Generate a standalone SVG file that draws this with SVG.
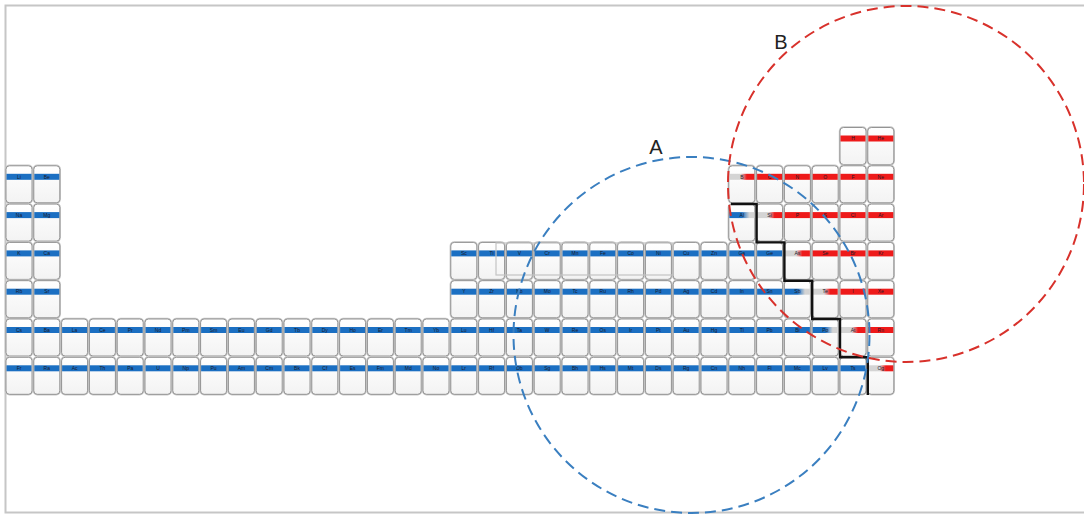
<svg xmlns="http://www.w3.org/2000/svg" xmlns:xlink="http://www.w3.org/1999/xlink" width="1084" height="514" viewBox="0 0 1084 514">
  <style>
    .band { stroke: none; }
    .m { fill: #1b6fc2; }
    .n { fill: #ee1a1a; }
    .mg { fill: url(#grayRed); }
    .mb { fill: url(#blueGray); }
    .sym { font-family: "Liberation Sans", Arial, sans-serif; font-size: 5px; fill: #1a1a2a; text-anchor: middle; }
    .lbl { font-family: "Liberation Sans", Arial, sans-serif; font-size: 20px; fill: #222; text-anchor: middle; }
    .ring { fill: none; stroke-width: 2; stroke-dasharray: 11 6; }
  </style>
  <defs>
    <linearGradient id="face" x1="0" y1="0" x2="0" y2="1">
      <stop offset="0" stop-color="#ffffff"/>
      <stop offset="1" stop-color="#f3f3f3"/>
    </linearGradient>
    <linearGradient id="grayRed" x1="0" y1="0" x2="1" y2="0">
      <stop offset="0" stop-color="#d4d4d4"/>
      <stop offset="0.45" stop-color="#d4d4d4"/>
      <stop offset="0.7" stop-color="#ee1a1a"/>
      <stop offset="1" stop-color="#ee1a1a"/>
    </linearGradient>
    <linearGradient id="blueGray" x1="0" y1="0" x2="1" y2="0">
      <stop offset="0" stop-color="#1b6fc2"/>
      <stop offset="0.5" stop-color="#1b6fc2"/>
      <stop offset="0.8" stop-color="#d4d4d4"/>
      <stop offset="1" stop-color="#d4d4d4"/>
    </linearGradient>
    <!-- one tile of the table: soft outer edge plus the card face -->
    <g id="cell">
      <rect x="0" y="0" width="26" height="37" rx="3.5" fill="none" stroke="#c8c8c8" stroke-width="2.4"/>
      <rect x="0" y="0" width="26" height="37" rx="3.5" fill="url(#face)" stroke="#8a8a8a" stroke-width="0.9"/>
    </g>
  </defs>

  <rect width="1084" height="514" fill="#ffffff"/>
  <!-- frame -->
  <rect x="5.5" y="5.5" width="1090" height="507" fill="none" stroke="#c6c6c6" stroke-width="2"/>

  <!-- period 1 -->
  <g id="el-H" transform="translate(840,127.5)"><use href="#cell"/><rect class="band n" x="0.5" y="8" width="25" height="6"/><text class="sym" x="13" y="12.8">H</text></g>
  <g id="el-He" transform="translate(867.8,127.5)"><use href="#cell"/><rect class="band n" x="0.5" y="8" width="25" height="6"/><text class="sym" x="13" y="12.8">He</text></g>

  <!-- period 2 -->
  <g id="el-Li" transform="translate(6,165.8)"><use href="#cell"/><rect class="band m" x="0.5" y="8" width="25" height="6"/><text class="sym" x="13" y="12.8">Li</text></g>
  <g id="el-Be" transform="translate(33.8,165.8)"><use href="#cell"/><rect class="band m" x="0.5" y="8" width="25" height="6"/><text class="sym" x="13" y="12.8">Be</text></g>
  <g id="el-B" transform="translate(728.8,165.8)"><use href="#cell"/><rect class="band mg" x="0.5" y="8" width="25" height="6"/><text class="sym" x="13" y="12.8">B</text></g>
  <g id="el-C" transform="translate(756.6,165.8)"><use href="#cell"/><rect class="band n" x="0.5" y="8" width="25" height="6"/><text class="sym" x="13" y="12.8">C</text></g>
  <g id="el-N" transform="translate(784.4,165.8)"><use href="#cell"/><rect class="band n" x="0.5" y="8" width="25" height="6"/><text class="sym" x="13" y="12.8">N</text></g>
  <g id="el-O" transform="translate(812.2,165.8)"><use href="#cell"/><rect class="band n" x="0.5" y="8" width="25" height="6"/><text class="sym" x="13" y="12.8">O</text></g>
  <g id="el-F" transform="translate(840,165.8)"><use href="#cell"/><rect class="band n" x="0.5" y="8" width="25" height="6"/><text class="sym" x="13" y="12.8">F</text></g>
  <g id="el-Ne" transform="translate(867.8,165.8)"><use href="#cell"/><rect class="band n" x="0.5" y="8" width="25" height="6"/><text class="sym" x="13" y="12.8">Ne</text></g>

  <!-- period 3 -->
  <g id="el-Na" transform="translate(6,204.1)"><use href="#cell"/><rect class="band m" x="0.5" y="8" width="25" height="6"/><text class="sym" x="13" y="12.8">Na</text></g>
  <g id="el-Mg" transform="translate(33.8,204.1)"><use href="#cell"/><rect class="band m" x="0.5" y="8" width="25" height="6"/><text class="sym" x="13" y="12.8">Mg</text></g>
  <g id="el-Al" transform="translate(728.8,204.1)"><use href="#cell"/><rect class="band mb" x="0.5" y="8" width="25" height="6"/><text class="sym" x="13" y="12.8">Al</text></g>
  <g id="el-Si" transform="translate(756.6,204.1)"><use href="#cell"/><rect class="band mg" x="0.5" y="8" width="25" height="6"/><text class="sym" x="13" y="12.8">Si</text></g>
  <g id="el-P" transform="translate(784.4,204.1)"><use href="#cell"/><rect class="band n" x="0.5" y="8" width="25" height="6"/><text class="sym" x="13" y="12.8">P</text></g>
  <g id="el-S" transform="translate(812.2,204.1)"><use href="#cell"/><rect class="band n" x="0.5" y="8" width="25" height="6"/><text class="sym" x="13" y="12.8">S</text></g>
  <g id="el-Cl" transform="translate(840,204.1)"><use href="#cell"/><rect class="band n" x="0.5" y="8" width="25" height="6"/><text class="sym" x="13" y="12.8">Cl</text></g>
  <g id="el-Ar" transform="translate(867.8,204.1)"><use href="#cell"/><rect class="band n" x="0.5" y="8" width="25" height="6"/><text class="sym" x="13" y="12.8">Ar</text></g>

  <!-- period 4 -->
  <g id="el-K" transform="translate(6,242.4)"><use href="#cell"/><rect class="band m" x="0.5" y="8" width="25" height="6"/><text class="sym" x="13" y="12.8">K</text></g>
  <g id="el-Ca" transform="translate(33.8,242.4)"><use href="#cell"/><rect class="band m" x="0.5" y="8" width="25" height="6"/><text class="sym" x="13" y="12.8">Ca</text></g>
  <g id="el-Sc" transform="translate(450.8,242.4)"><use href="#cell"/><rect class="band m" x="0.5" y="8" width="25" height="6"/><text class="sym" x="13" y="12.8">Sc</text></g>
  <g id="el-Ti" transform="translate(478.6,242.4)"><use href="#cell"/><rect class="band m" x="0.5" y="8" width="25" height="6"/><text class="sym" x="13" y="12.8">Ti</text></g>
  <g id="el-V" transform="translate(506.4,242.4)"><use href="#cell"/><rect class="band m" x="0.5" y="8" width="25" height="6"/><text class="sym" x="13" y="12.8">V</text></g>
  <g id="el-Cr" transform="translate(534.2,242.4)"><use href="#cell"/><rect class="band m" x="0.5" y="8" width="25" height="6"/><text class="sym" x="13" y="12.8">Cr</text></g>
  <g id="el-Mn" transform="translate(562,242.4)"><use href="#cell"/><rect class="band m" x="0.5" y="8" width="25" height="6"/><text class="sym" x="13" y="12.8">Mn</text></g>
  <g id="el-Fe" transform="translate(589.8,242.4)"><use href="#cell"/><rect class="band m" x="0.5" y="8" width="25" height="6"/><text class="sym" x="13" y="12.8">Fe</text></g>
  <g id="el-Co" transform="translate(617.6,242.4)"><use href="#cell"/><rect class="band m" x="0.5" y="8" width="25" height="6"/><text class="sym" x="13" y="12.8">Co</text></g>
  <g id="el-Ni" transform="translate(645.4,242.4)"><use href="#cell"/><rect class="band m" x="0.5" y="8" width="25" height="6"/><text class="sym" x="13" y="12.8">Ni</text></g>
  <g id="el-Cu" transform="translate(673.2,242.4)"><use href="#cell"/><rect class="band m" x="0.5" y="8" width="25" height="6"/><text class="sym" x="13" y="12.8">Cu</text></g>
  <g id="el-Zn" transform="translate(701,242.4)"><use href="#cell"/><rect class="band m" x="0.5" y="8" width="25" height="6"/><text class="sym" x="13" y="12.8">Zn</text></g>
  <g id="el-Ga" transform="translate(728.8,242.4)"><use href="#cell"/><rect class="band m" x="0.5" y="8" width="25" height="6"/><text class="sym" x="13" y="12.8">Ga</text></g>
  <g id="el-Ge" transform="translate(756.6,242.4)"><use href="#cell"/><rect class="band m" x="0.5" y="8" width="25" height="6"/><text class="sym" x="13" y="12.8">Ge</text></g>
  <g id="el-As" transform="translate(784.4,242.4)"><use href="#cell"/><rect class="band mg" x="0.5" y="8" width="25" height="6"/><text class="sym" x="13" y="12.8">As</text></g>
  <g id="el-Se" transform="translate(812.2,242.4)"><use href="#cell"/><rect class="band n" x="0.5" y="8" width="25" height="6"/><text class="sym" x="13" y="12.8">Se</text></g>
  <g id="el-Br" transform="translate(840,242.4)"><use href="#cell"/><rect class="band n" x="0.5" y="8" width="25" height="6"/><text class="sym" x="13" y="12.8">Br</text></g>
  <g id="el-Kr" transform="translate(867.8,242.4)"><use href="#cell"/><rect class="band n" x="0.5" y="8" width="25" height="6"/><text class="sym" x="13" y="12.8">Kr</text></g>

  <!-- period 5 -->
  <g id="el-Rb" transform="translate(6,280.7)"><use href="#cell"/><rect class="band m" x="0.5" y="8" width="25" height="6"/><text class="sym" x="13" y="12.8">Rb</text></g>
  <g id="el-Sr" transform="translate(33.8,280.7)"><use href="#cell"/><rect class="band m" x="0.5" y="8" width="25" height="6"/><text class="sym" x="13" y="12.8">Sr</text></g>
  <g id="el-Y" transform="translate(450.8,280.7)"><use href="#cell"/><rect class="band m" x="0.5" y="8" width="25" height="6"/><text class="sym" x="13" y="12.8">Y</text></g>
  <g id="el-Zr" transform="translate(478.6,280.7)"><use href="#cell"/><rect class="band m" x="0.5" y="8" width="25" height="6"/><text class="sym" x="13" y="12.8">Zr</text></g>
  <g id="el-Nb" transform="translate(506.4,280.7)"><use href="#cell"/><rect class="band m" x="0.5" y="8" width="25" height="6"/><text class="sym" x="13" y="12.8">Nb</text></g>
  <g id="el-Mo" transform="translate(534.2,280.7)"><use href="#cell"/><rect class="band m" x="0.5" y="8" width="25" height="6"/><text class="sym" x="13" y="12.8">Mo</text></g>
  <g id="el-Tc" transform="translate(562,280.7)"><use href="#cell"/><rect class="band m" x="0.5" y="8" width="25" height="6"/><text class="sym" x="13" y="12.8">Tc</text></g>
  <g id="el-Ru" transform="translate(589.8,280.7)"><use href="#cell"/><rect class="band m" x="0.5" y="8" width="25" height="6"/><text class="sym" x="13" y="12.8">Ru</text></g>
  <g id="el-Rh" transform="translate(617.6,280.7)"><use href="#cell"/><rect class="band m" x="0.5" y="8" width="25" height="6"/><text class="sym" x="13" y="12.8">Rh</text></g>
  <g id="el-Pd" transform="translate(645.4,280.7)"><use href="#cell"/><rect class="band m" x="0.5" y="8" width="25" height="6"/><text class="sym" x="13" y="12.8">Pd</text></g>
  <g id="el-Ag" transform="translate(673.2,280.7)"><use href="#cell"/><rect class="band m" x="0.5" y="8" width="25" height="6"/><text class="sym" x="13" y="12.8">Ag</text></g>
  <g id="el-Cd" transform="translate(701,280.7)"><use href="#cell"/><rect class="band m" x="0.5" y="8" width="25" height="6"/><text class="sym" x="13" y="12.8">Cd</text></g>
  <g id="el-In" transform="translate(728.8,280.7)"><use href="#cell"/><rect class="band m" x="0.5" y="8" width="25" height="6"/><text class="sym" x="13" y="12.8">In</text></g>
  <g id="el-Sn" transform="translate(756.6,280.7)"><use href="#cell"/><rect class="band m" x="0.5" y="8" width="25" height="6"/><text class="sym" x="13" y="12.8">Sn</text></g>
  <g id="el-Sb" transform="translate(784.4,280.7)"><use href="#cell"/><rect class="band mb" x="0.5" y="8" width="25" height="6"/><text class="sym" x="13" y="12.8">Sb</text></g>
  <g id="el-Te" transform="translate(812.2,280.7)"><use href="#cell"/><rect class="band mg" x="0.5" y="8" width="25" height="6"/><text class="sym" x="13" y="12.8">Te</text></g>
  <g id="el-I" transform="translate(840,280.7)"><use href="#cell"/><rect class="band n" x="0.5" y="8" width="25" height="6"/><text class="sym" x="13" y="12.8">I</text></g>
  <g id="el-Xe" transform="translate(867.8,280.7)"><use href="#cell"/><rect class="band n" x="0.5" y="8" width="25" height="6"/><text class="sym" x="13" y="12.8">Xe</text></g>

  <!-- period 6 -->
  <g id="el-Cs" transform="translate(6,319)"><use href="#cell"/><rect class="band m" x="0.5" y="8" width="25" height="6"/><text class="sym" x="13" y="12.8">Cs</text></g>
  <g id="el-Ba" transform="translate(33.8,319)"><use href="#cell"/><rect class="band m" x="0.5" y="8" width="25" height="6"/><text class="sym" x="13" y="12.8">Ba</text></g>
  <g id="el-La" transform="translate(61.6,319)"><use href="#cell"/><rect class="band m" x="0.5" y="8" width="25" height="6"/><text class="sym" x="13" y="12.8">La</text></g>
  <g id="el-Ce" transform="translate(89.4,319)"><use href="#cell"/><rect class="band m" x="0.5" y="8" width="25" height="6"/><text class="sym" x="13" y="12.8">Ce</text></g>
  <g id="el-Pr" transform="translate(117.2,319)"><use href="#cell"/><rect class="band m" x="0.5" y="8" width="25" height="6"/><text class="sym" x="13" y="12.8">Pr</text></g>
  <g id="el-Nd" transform="translate(145,319)"><use href="#cell"/><rect class="band m" x="0.5" y="8" width="25" height="6"/><text class="sym" x="13" y="12.8">Nd</text></g>
  <g id="el-Pm" transform="translate(172.8,319)"><use href="#cell"/><rect class="band m" x="0.5" y="8" width="25" height="6"/><text class="sym" x="13" y="12.8">Pm</text></g>
  <g id="el-Sm" transform="translate(200.6,319)"><use href="#cell"/><rect class="band m" x="0.5" y="8" width="25" height="6"/><text class="sym" x="13" y="12.8">Sm</text></g>
  <g id="el-Eu" transform="translate(228.4,319)"><use href="#cell"/><rect class="band m" x="0.5" y="8" width="25" height="6"/><text class="sym" x="13" y="12.8">Eu</text></g>
  <g id="el-Gd" transform="translate(256.2,319)"><use href="#cell"/><rect class="band m" x="0.5" y="8" width="25" height="6"/><text class="sym" x="13" y="12.8">Gd</text></g>
  <g id="el-Tb" transform="translate(284,319)"><use href="#cell"/><rect class="band m" x="0.5" y="8" width="25" height="6"/><text class="sym" x="13" y="12.8">Tb</text></g>
  <g id="el-Dy" transform="translate(311.8,319)"><use href="#cell"/><rect class="band m" x="0.5" y="8" width="25" height="6"/><text class="sym" x="13" y="12.8">Dy</text></g>
  <g id="el-Ho" transform="translate(339.6,319)"><use href="#cell"/><rect class="band m" x="0.5" y="8" width="25" height="6"/><text class="sym" x="13" y="12.8">Ho</text></g>
  <g id="el-Er" transform="translate(367.4,319)"><use href="#cell"/><rect class="band m" x="0.5" y="8" width="25" height="6"/><text class="sym" x="13" y="12.8">Er</text></g>
  <g id="el-Tm" transform="translate(395.2,319)"><use href="#cell"/><rect class="band m" x="0.5" y="8" width="25" height="6"/><text class="sym" x="13" y="12.8">Tm</text></g>
  <g id="el-Yb" transform="translate(423,319)"><use href="#cell"/><rect class="band m" x="0.5" y="8" width="25" height="6"/><text class="sym" x="13" y="12.8">Yb</text></g>
  <g id="el-Lu" transform="translate(450.8,319)"><use href="#cell"/><rect class="band m" x="0.5" y="8" width="25" height="6"/><text class="sym" x="13" y="12.8">Lu</text></g>
  <g id="el-Hf" transform="translate(478.6,319)"><use href="#cell"/><rect class="band m" x="0.5" y="8" width="25" height="6"/><text class="sym" x="13" y="12.8">Hf</text></g>
  <g id="el-Ta" transform="translate(506.4,319)"><use href="#cell"/><rect class="band m" x="0.5" y="8" width="25" height="6"/><text class="sym" x="13" y="12.8">Ta</text></g>
  <g id="el-W" transform="translate(534.2,319)"><use href="#cell"/><rect class="band m" x="0.5" y="8" width="25" height="6"/><text class="sym" x="13" y="12.8">W</text></g>
  <g id="el-Re" transform="translate(562,319)"><use href="#cell"/><rect class="band m" x="0.5" y="8" width="25" height="6"/><text class="sym" x="13" y="12.8">Re</text></g>
  <g id="el-Os" transform="translate(589.8,319)"><use href="#cell"/><rect class="band m" x="0.5" y="8" width="25" height="6"/><text class="sym" x="13" y="12.8">Os</text></g>
  <g id="el-Ir" transform="translate(617.6,319)"><use href="#cell"/><rect class="band m" x="0.5" y="8" width="25" height="6"/><text class="sym" x="13" y="12.8">Ir</text></g>
  <g id="el-Pt" transform="translate(645.4,319)"><use href="#cell"/><rect class="band m" x="0.5" y="8" width="25" height="6"/><text class="sym" x="13" y="12.8">Pt</text></g>
  <g id="el-Au" transform="translate(673.2,319)"><use href="#cell"/><rect class="band m" x="0.5" y="8" width="25" height="6"/><text class="sym" x="13" y="12.8">Au</text></g>
  <g id="el-Hg" transform="translate(701,319)"><use href="#cell"/><rect class="band m" x="0.5" y="8" width="25" height="6"/><text class="sym" x="13" y="12.8">Hg</text></g>
  <g id="el-Tl" transform="translate(728.8,319)"><use href="#cell"/><rect class="band m" x="0.5" y="8" width="25" height="6"/><text class="sym" x="13" y="12.8">Tl</text></g>
  <g id="el-Pb" transform="translate(756.6,319)"><use href="#cell"/><rect class="band m" x="0.5" y="8" width="25" height="6"/><text class="sym" x="13" y="12.8">Pb</text></g>
  <g id="el-Bi" transform="translate(784.4,319)"><use href="#cell"/><rect class="band m" x="0.5" y="8" width="25" height="6"/><text class="sym" x="13" y="12.8">Bi</text></g>
  <g id="el-Po" transform="translate(812.2,319)"><use href="#cell"/><rect class="band mb" x="0.5" y="8" width="25" height="6"/><text class="sym" x="13" y="12.8">Po</text></g>
  <g id="el-At" transform="translate(840,319)"><use href="#cell"/><rect class="band mg" x="0.5" y="8" width="25" height="6"/><text class="sym" x="13" y="12.8">At</text></g>
  <g id="el-Rn" transform="translate(867.8,319)"><use href="#cell"/><rect class="band n" x="0.5" y="8" width="25" height="6"/><text class="sym" x="13" y="12.8">Rn</text></g>

  <!-- period 7 -->
  <g id="el-Fr" transform="translate(6,357.3)"><use href="#cell"/><rect class="band m" x="0.5" y="8" width="25" height="6"/><text class="sym" x="13" y="12.8">Fr</text></g>
  <g id="el-Ra" transform="translate(33.8,357.3)"><use href="#cell"/><rect class="band m" x="0.5" y="8" width="25" height="6"/><text class="sym" x="13" y="12.8">Ra</text></g>
  <g id="el-Ac" transform="translate(61.6,357.3)"><use href="#cell"/><rect class="band m" x="0.5" y="8" width="25" height="6"/><text class="sym" x="13" y="12.8">Ac</text></g>
  <g id="el-Th" transform="translate(89.4,357.3)"><use href="#cell"/><rect class="band m" x="0.5" y="8" width="25" height="6"/><text class="sym" x="13" y="12.8">Th</text></g>
  <g id="el-Pa" transform="translate(117.2,357.3)"><use href="#cell"/><rect class="band m" x="0.5" y="8" width="25" height="6"/><text class="sym" x="13" y="12.8">Pa</text></g>
  <g id="el-U" transform="translate(145,357.3)"><use href="#cell"/><rect class="band m" x="0.5" y="8" width="25" height="6"/><text class="sym" x="13" y="12.8">U</text></g>
  <g id="el-Np" transform="translate(172.8,357.3)"><use href="#cell"/><rect class="band m" x="0.5" y="8" width="25" height="6"/><text class="sym" x="13" y="12.8">Np</text></g>
  <g id="el-Pu" transform="translate(200.6,357.3)"><use href="#cell"/><rect class="band m" x="0.5" y="8" width="25" height="6"/><text class="sym" x="13" y="12.8">Pu</text></g>
  <g id="el-Am" transform="translate(228.4,357.3)"><use href="#cell"/><rect class="band m" x="0.5" y="8" width="25" height="6"/><text class="sym" x="13" y="12.8">Am</text></g>
  <g id="el-Cm" transform="translate(256.2,357.3)"><use href="#cell"/><rect class="band m" x="0.5" y="8" width="25" height="6"/><text class="sym" x="13" y="12.8">Cm</text></g>
  <g id="el-Bk" transform="translate(284,357.3)"><use href="#cell"/><rect class="band m" x="0.5" y="8" width="25" height="6"/><text class="sym" x="13" y="12.8">Bk</text></g>
  <g id="el-Cf" transform="translate(311.8,357.3)"><use href="#cell"/><rect class="band m" x="0.5" y="8" width="25" height="6"/><text class="sym" x="13" y="12.8">Cf</text></g>
  <g id="el-Es" transform="translate(339.6,357.3)"><use href="#cell"/><rect class="band m" x="0.5" y="8" width="25" height="6"/><text class="sym" x="13" y="12.8">Es</text></g>
  <g id="el-Fm" transform="translate(367.4,357.3)"><use href="#cell"/><rect class="band m" x="0.5" y="8" width="25" height="6"/><text class="sym" x="13" y="12.8">Fm</text></g>
  <g id="el-Md" transform="translate(395.2,357.3)"><use href="#cell"/><rect class="band m" x="0.5" y="8" width="25" height="6"/><text class="sym" x="13" y="12.8">Md</text></g>
  <g id="el-No" transform="translate(423,357.3)"><use href="#cell"/><rect class="band m" x="0.5" y="8" width="25" height="6"/><text class="sym" x="13" y="12.8">No</text></g>
  <g id="el-Lr" transform="translate(450.8,357.3)"><use href="#cell"/><rect class="band m" x="0.5" y="8" width="25" height="6"/><text class="sym" x="13" y="12.8">Lr</text></g>
  <g id="el-Rf" transform="translate(478.6,357.3)"><use href="#cell"/><rect class="band m" x="0.5" y="8" width="25" height="6"/><text class="sym" x="13" y="12.8">Rf</text></g>
  <g id="el-Db" transform="translate(506.4,357.3)"><use href="#cell"/><rect class="band m" x="0.5" y="8" width="25" height="6"/><text class="sym" x="13" y="12.8">Db</text></g>
  <g id="el-Sg" transform="translate(534.2,357.3)"><use href="#cell"/><rect class="band m" x="0.5" y="8" width="25" height="6"/><text class="sym" x="13" y="12.8">Sg</text></g>
  <g id="el-Bh" transform="translate(562,357.3)"><use href="#cell"/><rect class="band m" x="0.5" y="8" width="25" height="6"/><text class="sym" x="13" y="12.8">Bh</text></g>
  <g id="el-Hs" transform="translate(589.8,357.3)"><use href="#cell"/><rect class="band m" x="0.5" y="8" width="25" height="6"/><text class="sym" x="13" y="12.8">Hs</text></g>
  <g id="el-Mt" transform="translate(617.6,357.3)"><use href="#cell"/><rect class="band m" x="0.5" y="8" width="25" height="6"/><text class="sym" x="13" y="12.8">Mt</text></g>
  <g id="el-Ds" transform="translate(645.4,357.3)"><use href="#cell"/><rect class="band m" x="0.5" y="8" width="25" height="6"/><text class="sym" x="13" y="12.8">Ds</text></g>
  <g id="el-Rg" transform="translate(673.2,357.3)"><use href="#cell"/><rect class="band m" x="0.5" y="8" width="25" height="6"/><text class="sym" x="13" y="12.8">Rg</text></g>
  <g id="el-Cn" transform="translate(701,357.3)"><use href="#cell"/><rect class="band m" x="0.5" y="8" width="25" height="6"/><text class="sym" x="13" y="12.8">Cn</text></g>
  <g id="el-Nh" transform="translate(728.8,357.3)"><use href="#cell"/><rect class="band m" x="0.5" y="8" width="25" height="6"/><text class="sym" x="13" y="12.8">Nh</text></g>
  <g id="el-Fl" transform="translate(756.6,357.3)"><use href="#cell"/><rect class="band m" x="0.5" y="8" width="25" height="6"/><text class="sym" x="13" y="12.8">Fl</text></g>
  <g id="el-Mc" transform="translate(784.4,357.3)"><use href="#cell"/><rect class="band m" x="0.5" y="8" width="25" height="6"/><text class="sym" x="13" y="12.8">Mc</text></g>
  <g id="el-Lv" transform="translate(812.2,357.3)"><use href="#cell"/><rect class="band m" x="0.5" y="8" width="25" height="6"/><text class="sym" x="13" y="12.8">Lv</text></g>
  <g id="el-Ts" transform="translate(840,357.3)"><use href="#cell"/><rect class="band m" x="0.5" y="8" width="25" height="6"/><text class="sym" x="13" y="12.8">Ts</text></g>
  <g id="el-Og" transform="translate(867.8,357.3)"><use href="#cell"/><rect class="band mg" x="0.5" y="8" width="25" height="6"/><text class="sym" x="13" y="12.8">Og</text></g>

  <!-- faint selection box over the period-4 transition metals -->
  <rect id="selection" x="496" y="243" width="177" height="32" fill="none" stroke="#c4c4c4" stroke-width="1.2"/>

  <!-- connectors: metal / nonmetal staircase and the two highlight rings -->
  <g id="connectors">
    <path id="staircase" d="M731,204 H756.6 V242.4 H784.4 V280.7 H812.2 V319 H840 V357.3 H867.8 V395" fill="none" stroke="#111" stroke-width="2.4"/>
    <circle id="ring-A" class="ring" cx="691.5" cy="335" r="178" stroke="#3a7fc0"/>
    <circle id="ring-B" class="ring" cx="906" cy="184" r="178" stroke="#d8312b"/>
  </g>

  <g id="label-A"><text class="lbl" x="656" y="154">A</text></g>
  <g id="label-B"><text class="lbl" x="781" y="49">B</text></g>
</svg>
